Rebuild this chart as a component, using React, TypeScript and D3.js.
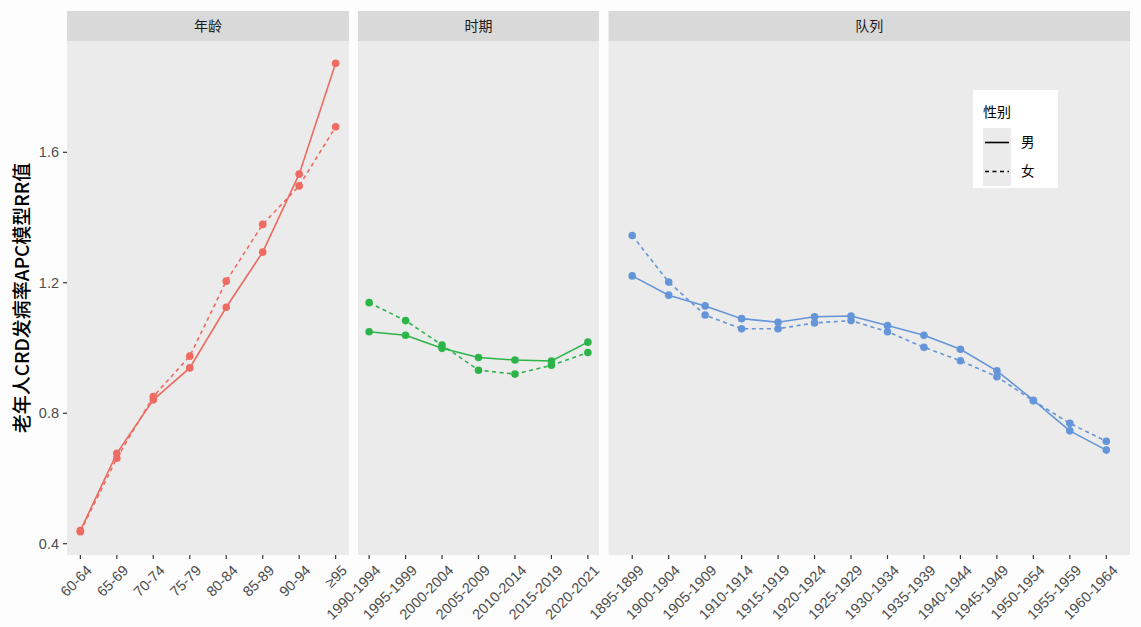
import React from "react";
import * as d3 from "d3";

const ageCats = ["60-64", "65-69", "70-74", "75-79", "80-84", "85-89", "90-94", "≥95"];
const ageMale = [0.44, 0.677, 0.841, 0.939, 1.125, 1.294, 1.533, 1.873];
const ageFemale = [0.437, 0.662, 0.851, 0.975, 1.205, 1.379, 1.497, 1.678];

const periodCats = ["1990-1994", "1995-1999", "2000-2004", "2005-2009", "2010-2014", "2015-2019", "2020-2021"];
const periodMale = [1.05, 1.039, 0.999, 0.971, 0.963, 0.96, 1.018];
const periodFemale = [1.139, 1.084, 1.009, 0.932, 0.92, 0.947, 0.986];

const cohortCats = [
  "1895-1899", "1900-1904", "1905-1909", "1910-1914", "1915-1919", "1920-1924", "1925-1929",
  "1930-1934", "1935-1939", "1940-1944", "1945-1949", "1950-1954", "1955-1959", "1960-1964",
];
const cohortMale = [1.221, 1.162, 1.129, 1.09, 1.079, 1.096, 1.098, 1.069, 1.039, 0.996, 0.93, 0.84, 0.746, 0.687];
const cohortFemale = [1.345, 1.202, 1.101, 1.059, 1.059, 1.077, 1.084, 1.05, 1.002, 0.961, 0.912, 0.838, 0.769, 0.714];

const yTicks = [0.4, 0.8, 1.2, 1.6];
const facetNames = ["年龄", "时期", "队列"];
const sexLabels = ["男", "女"];
const yTitle = "老年人CRD发病率APC模型RR值";

const FONT = "'Noto Sans CJK SC', 'Noto Sans', sans-serif";
const LATIN = "'Liberation Sans', Arial, 'Noto Sans CJK SC', sans-serif";

export default function App() {
  const W = 1141;
  const H = 627;
  const stripTop = 11;
  const panelTop = 41;
  const panelBottom = 555;

  const y = d3.scaleLinear().domain([0.4, 1.6]).range([543.7, 152.3]);

  const panels = [
    { name: facetNames[0], cats: ageCats, male: ageMale, female: ageFemale, color: "#EE6B61", left: 67, right: 349, pad: 0.366 },
    { name: facetNames[1], cats: periodCats, male: periodMale, female: periodFemale, color: "#2DB449", left: 358, right: 599, pad: 0.305 },
    { name: facetNames[2], cats: cohortCats, male: cohortMale, female: cohortFemale, color: "#6495D8", left: 608.5, right: 1130, pad: 0.65 },
  ];

  const legendX = 973;
  const legendY = 90;

  return (
    <svg
      width={W}
      height={H}
      style={{ position: "absolute", left: 0, top: 0, display: "block", background: "#FDFDFD" }}
      fontFamily={FONT}
    >
      <rect x={0} y={0} width={W} height={H} fill="#FDFDFD" />
      {panels.map((p, pi) => {
        const x = d3.scalePoint<string>().domain(p.cats).range([p.left, p.right]).padding(p.pad);
        const line = d3
          .line<number>()
          .x((_, i) => x(p.cats[i]) as number)
          .y((v) => y(v));
        return (
          <g key={pi}>
            <rect x={p.left} y={stripTop} width={p.right - p.left} height={panelTop - stripTop} fill="#D9D9D9" />
            <text
              x={(p.left + p.right) / 2}
              y={(stripTop + panelTop) / 2}
              dy="0.35em"
              textAnchor="middle"
              fontSize={14}
              fill="#1A1A1A"
            >
              {p.name}
            </text>
            <rect x={p.left} y={panelTop} width={p.right - p.left} height={panelBottom - panelTop} fill="#EBEBEB" />
            <path d={line(p.female) || ""} fill="none" stroke={p.color} strokeWidth={1.6} strokeDasharray="4,3.5" />
            <path d={line(p.male) || ""} fill="none" stroke={p.color} strokeWidth={1.6} />
            {p.female.map((v, i) => (
              <circle key={"f" + i} cx={x(p.cats[i])} cy={y(v)} r={3.8} fill={p.color} />
            ))}
            {p.male.map((v, i) => (
              <circle key={"m" + i} cx={x(p.cats[i])} cy={y(v)} r={3.8} fill={p.color} />
            ))}
            {p.cats.map((c) => {
              const tx = x(c) as number;
              return (
                <g key={c}>
                  <line x1={tx} x2={tx} y1={panelBottom} y2={panelBottom + 4} stroke="#333333" strokeWidth={1.2} />
                  <text
                    transform={`translate(${tx + 5},${panelBottom + 9}) rotate(-45)`}
                    textAnchor="end"
                    dy="0.72em"
                    fontSize={14.5}
                    fontFamily={LATIN}
                    fill="#4D4D4D"
                  >
                    {c}
                  </text>
                </g>
              );
            })}
          </g>
        );
      })}
      {yTicks.map((t) => (
        <g key={t}>
          <line x1={63} x2={67} y1={y(t)} y2={y(t)} stroke="#333333" strokeWidth={1.2} />
          <text x={59} y={y(t)} dy="0.35em" textAnchor="end" fontSize={14.5} fontFamily={LATIN} fill="#4D4D4D">
            {d3.format(".1f")(t)}
          </text>
        </g>
      ))}
      <text
        transform={`translate(22,${(panelTop + panelBottom) / 2}) rotate(-90)`}
        textAnchor="middle"
        dy="0.35em"
        fontSize={19}
        fontWeight={500}
        fill="#000000"
      >
        {yTitle}
      </text>
      <g>
        <rect x={legendX} y={legendY} width={85} height={98} fill="#FFFFFF" />
        <text x={legendX + 10} y={legendY + 22} dy="0.35em" fontSize={14} fill="#000000">
          性别
        </text>
        {sexLabels.map((s, i) => {
          const ky = legendY + 38 + i * 29;
          return (
            <g key={s}>
              <rect x={legendX + 10} y={ky} width={28} height={29} fill="#EBEBEB" />
              <line
                x1={legendX + 12}
                x2={legendX + 36}
                y1={ky + 14.5}
                y2={ky + 14.5}
                stroke="#000000"
                strokeWidth={1.6}
                strokeDasharray={i === 1 ? "4,3.5" : undefined}
              />
              <text x={legendX + 48} y={ky + 14.5} dy="0.35em" fontSize={13.5} fill="#000000">
                {s}
              </text>
            </g>
          );
        })}
      </g>
    </svg>
  );
}
